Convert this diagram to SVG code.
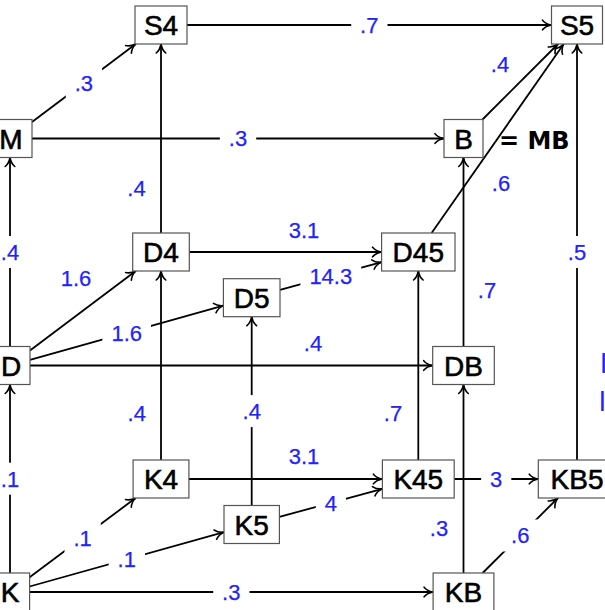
<svg xmlns="http://www.w3.org/2000/svg" width="605" height="610" viewBox="0 0 605 610">
<style>
.node rect{fill:#fff;stroke:#555;stroke-width:1.2}
.node text{font-family:"Liberation Sans",Arial,sans-serif;font-size:28px;text-anchor:middle;fill:#000;stroke:#000;stroke-width:0.6}
.edge{stroke:#000;stroke-width:1.8;fill:none;marker-end:url(#arr)}
.lbl{font-family:"Liberation Sans",Arial,sans-serif;font-size:22px;fill:#2222ff;text-anchor:middle;stroke:#2222ff;stroke-width:0.25}
.bg{fill:#fff}
</style>
<defs>
<marker id="arr" markerUnits="userSpaceOnUse" markerWidth="14" markerHeight="14" viewBox="-11 -7 14 14" refX="0" refY="0" orient="auto" overflow="visible">
<path d="M-9,-4.8 C-7.2,-2.6 -3,-0.5 0,0 C-3,0.5 -7.2,2.6 -9,4.8" fill="none" stroke="#000" stroke-width="1.6" stroke-linecap="round" stroke-linejoin="round"/>
</marker>
</defs>
<rect x="0" y="0" width="605" height="610" fill="#fff"/>
<g id="connectors">
<line class="edge" x1="187" y1="25" x2="551.5" y2="25"/>
<line class="edge" x1="32" y1="122" x2="135.7" y2="44"/>
<line class="edge" x1="32" y1="138.5" x2="444" y2="138.5"/>
<line class="edge" x1="161" y1="233" x2="161" y2="44"/>
<line class="edge" x1="10" y1="346.5" x2="10" y2="157.5"/>
<line class="edge" x1="30" y1="350.5" x2="135.7" y2="271"/>
<line class="edge" x1="30" y1="359.9" x2="223.4" y2="305.6"/>
<line class="edge" x1="189.3" y1="252" x2="381.6" y2="252"/>
<line class="edge" x1="280" y1="289.9" x2="381.6" y2="262.1"/>
<line class="edge" x1="30" y1="365.5" x2="432.7" y2="365.5"/>
<line class="edge" x1="431.6" y1="233" x2="563.7" y2="44"/>
<line class="edge" x1="482.5" y1="119.5" x2="558" y2="44"/>
<line class="edge" x1="463.5" y1="346.5" x2="463.5" y2="157.5"/>
<line class="edge" x1="577" y1="460" x2="577" y2="44"/>
<line class="edge" x1="10" y1="573" x2="10" y2="384.5"/>
<line class="edge" x1="161" y1="460" x2="161" y2="271"/>
<line class="edge" x1="251.7" y1="505.5" x2="251.7" y2="316.7"/>
<line class="edge" x1="418.3" y1="460" x2="418.3" y2="271"/>
<line class="edge" x1="463.5" y1="573" x2="463.5" y2="384.5"/>
<line class="edge" x1="189" y1="479" x2="382.4" y2="479"/>
<line class="edge" x1="279.4" y1="516.9" x2="382.4" y2="488.8"/>
<line class="edge" x1="454.2" y1="479" x2="538.3" y2="479"/>
<line class="edge" x1="29.6" y1="577.3" x2="135.6" y2="498"/>
<line class="edge" x1="29.6" y1="586.5" x2="224" y2="532.2"/>
<line class="edge" x1="29.6" y1="592" x2="433.1" y2="592"/>
<line class="edge" x1="482.6" y1="573" x2="557.9" y2="498"/>
<g id="edge-labels">
<rect class="bg" x="351.2" y="9" width="36.3" height="32"/><text class="lbl" x="369.3" y="32.9">.7</text>
<rect class="bg" x="65.8" y="67" width="36.3" height="32"/><text class="lbl" x="83.9" y="90.9">.3</text>
<rect class="bg" x="219.9" y="122.5" width="36.3" height="32"/><text class="lbl" x="238" y="146.4">.3</text>
<rect class="bg" x="-8.2" y="236" width="36.3" height="32"/><text class="lbl" x="10" y="259.9">.4</text>
<rect class="bg" x="102.4" y="316.7" width="48.6" height="32"/><text class="lbl" x="126.7" y="340.6">1.6</text>
<rect class="bg" x="300.4" y="260" width="60.8" height="32"/><text class="lbl" x="330.8" y="283.9">14.3</text>
<rect class="bg" x="558.9" y="236" width="36.3" height="32"/><text class="lbl" x="577" y="259.9">.5</text>
<rect class="bg" x="-8.2" y="462.7" width="36.3" height="32"/><text class="lbl" x="10" y="486.6">.1</text>
<rect class="bg" x="233.6" y="395.1" width="36.3" height="32"/><text class="lbl" x="251.7" y="419">.4</text>
<rect class="bg" x="315.8" y="486.9" width="30.2" height="32"/><text class="lbl" x="330.9" y="510.8">4</text>
<rect class="bg" x="481.1" y="463" width="30.2" height="32"/><text class="lbl" x="496.2" y="486.9">3</text>
<rect class="bg" x="64.5" y="521.6" width="36.3" height="32"/><text class="lbl" x="82.6" y="545.5">.1</text>
<rect class="bg" x="108.7" y="543.4" width="36.3" height="32"/><text class="lbl" x="126.8" y="567.3">.1</text>
<rect class="bg" x="213.2" y="576" width="36.3" height="32"/><text class="lbl" x="231.3" y="599.9">.3</text>
<rect class="bg" x="502.1" y="519.5" width="36.3" height="32"/><text class="lbl" x="520.2" y="543.4">.6</text>
<text class="lbl" x="136.5" y="195.9">.4</text>
<text class="lbl" x="76" y="285.9">1.6</text>
<text class="lbl" x="304" y="237.9">3.1</text>
<text class="lbl" x="313" y="350.9">.4</text>
<text class="lbl" x="501" y="190.9">.6</text>
<text class="lbl" x="500" y="71.9">.4</text>
<text class="lbl" x="487" y="297.9">.7</text>
<text class="lbl" x="136.7" y="420.9">.4</text>
<text class="lbl" x="393" y="420.9">.7</text>
<text class="lbl" x="439" y="535.9">.3</text>
<text class="lbl" x="304" y="463.9">3.1</text>
</g>
</g>
<g id="n-S4" class="node"><rect x="135" y="6" width="52" height="38"/><text x="161" y="35">S4</text></g>
<g id="n-S5" class="node"><rect x="551.5" y="6" width="51" height="38"/><text x="577" y="35">S5</text></g>
<g id="n-M" class="node"><rect x="-12" y="119.5" width="44" height="38"/><text x="11" y="148.5">M</text></g>
<g id="n-B" class="node"><rect x="444" y="119.5" width="39" height="38"/><text x="463.5" y="148.5">B</text></g>
<g id="n-D4" class="node"><rect x="132.7" y="233" width="56.6" height="38"/><text x="161" y="262">D4</text></g>
<g id="n-D45" class="node"><rect x="381.6" y="233" width="73.4" height="38"/><text x="418.3" y="262">D45</text></g>
<g id="n-D5" class="node"><rect x="223.4" y="278.7" width="56.6" height="38"/><text x="251.7" y="307.7">D5</text></g>
<g id="n-D" class="node"><rect x="-10" y="346.5" width="40" height="38"/><text x="11" y="375.5">D</text></g>
<g id="n-DB" class="node"><rect x="432.7" y="346.5" width="61.6" height="38"/><text x="463.5" y="375.5">DB</text></g>
<g id="n-K4" class="node"><rect x="133.1" y="460" width="55.8" height="38"/><text x="161" y="489">K4</text></g>
<g id="n-K45" class="node"><rect x="382.4" y="460" width="71.8" height="38"/><text x="418.3" y="489">K45</text></g>
<g id="n-KB5" class="node"><rect x="538.3" y="460" width="77.4" height="38"/><text x="577" y="489">KB5</text></g>
<g id="n-K5" class="node"><rect x="224" y="505.5" width="55.4" height="38"/><text x="251.7" y="534.5">K5</text></g>
<g id="n-K" class="node"><rect x="-9.6" y="573" width="39.2" height="38"/><text x="10" y="602">K</text></g>
<g id="n-KB" class="node"><rect x="433.1" y="573" width="60.8" height="38"/><text x="463.5" y="602">KB</text></g>
<text x="499" y="148.5" font-family="DejaVu Sans, sans-serif" font-weight="bold" font-size="24" fill="#000">= MB</text>
<text x="600.5" y="373" font-family="Liberation Sans, sans-serif" font-size="28" fill="#2222ff">l</text>
<text x="599.3" y="411" font-family="Liberation Sans, sans-serif" font-size="28" fill="#2222ff">l</text>
</svg>
